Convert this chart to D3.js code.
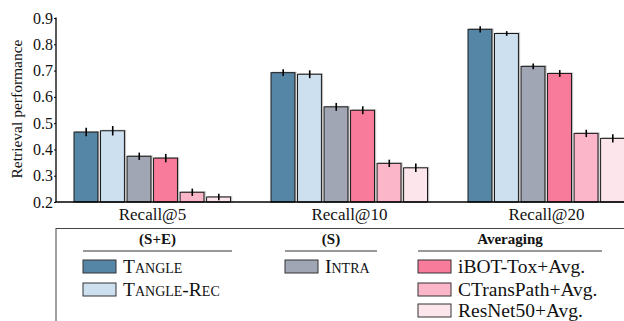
<!DOCTYPE html>
<html>
<head>
<meta charset="utf-8">
<script src="https://cdn.jsdelivr.net/npm/d3@7"></script>
<style>
  html, body { margin: 0; padding: 0; background: #fff; }
  svg { display: block; font-family: "Liberation Serif", "Times New Roman", serif; }
</style>
</head>
<body>
<svg id="chart" width="624" height="321"></svg>
<script>
// Retrieval performance by recall cutoff
const categories = ["Recall@5", "Recall@10", "Recall@20"];
const seriesNames = ["Tangle", "Tangle-Rec", "Intra", "iBOT-Tox+Avg.", "CTransPath+Avg.", "ResNet50+Avg."];
const seriesColors = ["#5686a6", "#cde0f0", "#a0a6b3", "#f97b9c", "#fbb6ca", "#fde5ec"];
const tangleVals    = [0.466, 0.692, 0.857];
const tangleRecVals = [0.471, 0.686, 0.841];
const intraVals     = [0.374, 0.562, 0.716];
const ibotVals      = [0.367, 0.549, 0.689];
const ctransVals    = [0.237, 0.347, 0.461];
const resnetVals    = [0.219, 0.330, 0.442];
const tangleErr    = [0.016, 0.013, 0.012];
const tangleRecErr = [0.018, 0.015, 0.009];
const intraErr     = [0.014, 0.015, 0.011];
const ibotErr      = [0.016, 0.015, 0.013];
const ctransErr    = [0.014, 0.014, 0.014];
const resnetErr    = [0.012, 0.016, 0.016];
const yTicks = [0.2, 0.3, 0.4, 0.5, 0.6, 0.7, 0.8, 0.9];
const legendGroups = [
  { title: "(S+E)", members: [0, 1] },
  { title: "(S)", members: [2] },
  { title: "Averaging", members: [3, 4, 5] }
];

const values = [tangleVals, tangleRecVals, intraVals, ibotVals, ctransVals, resnetVals];
const errors = [tangleErr, tangleRecErr, intraErr, ibotErr, ctransErr, resnetErr];

const svg = d3.select("#chart");

const y = d3.scaleLinear().domain([0.2, 0.9]).range([202, 18]);
const x0 = d3.scaleBand().domain(categories).range([54.3, 644.7])
  .paddingInner(0.203).paddingOuter(0.1);
const x1 = d3.scaleBand().domain(d3.range(seriesNames.length))
  .range([0, x0.bandwidth()]).paddingInner(0.08);

// bars
const groups = svg.append("g").selectAll("g")
  .data(categories).join("g")
  .attr("transform", d => `translate(${x0(d)},0)`);

const cells = groups.selectAll("g.bar")
  .data((c, ci) => seriesNames.map((s, si) => ({ si, v: values[si][ci], e: errors[si][ci] })))
  .join("g").attr("class", "bar");

// soft shadow behind each bar
cells.append("rect")
  .attr("x", d => x1(d.si) + 1.2)
  .attr("y", d => y(d.v) - 1)
  .attr("width", x1.bandwidth())
  .attr("height", d => y(0.2) - y(d.v) + 1)
  .attr("fill", "#9a9a9a").attr("opacity", 0.6);

cells.append("rect")
  .attr("x", d => x1(d.si))
  .attr("y", d => y(d.v))
  .attr("width", x1.bandwidth() - 0.5)
  .attr("height", d => y(0.2) - y(d.v))
  .attr("fill", d => seriesColors[d.si])
  .attr("stroke", "#1a1a1a").attr("stroke-width", 1);

// error bars
cells.append("line")
  .attr("x1", d => x1(d.si) + x1.bandwidth() / 2)
  .attr("x2", d => x1(d.si) + x1.bandwidth() / 2)
  .attr("y1", d => y(d.v - d.e))
  .attr("y2", d => y(d.v + d.e))
  .attr("stroke", "#000").attr("stroke-width", 1.6);

// y axis
const yAxis = svg.append("g").attr("transform", "translate(56,0)")
  .call(d3.axisLeft(y).tickValues(yTicks).tickFormat(d3.format(".1f")).tickSize(2).tickPadding(1));
yAxis.select(".domain").attr("stroke", "#000").attr("stroke-width", 1.3).attr("d", "M0,17.5V202");
yAxis.selectAll(".tick text").attr("font-size", 16).attr("fill", "#111")
  .attr("font-family", "Liberation Serif");
yAxis.selectAll(".tick line").attr("stroke", "#000");

// x baseline
svg.append("line").attr("x1", 55.5).attr("x2", 624).attr("y1", 202).attr("y2", 202)
  .attr("stroke", "#000").attr("stroke-width", 1.5);

// category labels
svg.append("g").selectAll("text").data(categories).join("text")
  .attr("x", d => x0(d) + x0.bandwidth() / 2)
  .attr("y", 220)
  .attr("text-anchor", "middle")
  .attr("font-size", 17).attr("fill", "#111")
  .text(d => d);

// y title
svg.append("text")
  .attr("transform", "translate(22,109) rotate(-90)")
  .attr("text-anchor", "middle")
  .attr("font-size", 15.5).attr("fill", "#111")
  .text("Retrieval performance");

// legend
const legend = svg.append("g");
legend.append("rect")
  .attr("x", 56).attr("y", 228.5).attr("width", 620).attr("height", 120)
  .attr("fill", "none").attr("stroke", "#444").attr("stroke-width", 1);

const colX = [83, 285, 418];
const colW = [149, 92, 184];
const rowY = [260, 283, 304];

legendGroups.forEach((g, gi) => {
  const cx = colX[gi];
  legend.append("text")
    .attr("x", cx + colW[gi] / 2).attr("y", 244)
    .attr("text-anchor", "middle").attr("font-weight", "bold")
    .attr("font-size", 15).attr("fill", "#111")
    .text(g.title);
  legend.append("line")
    .attr("x1", cx).attr("x2", cx + colW[gi]).attr("y1", 251).attr("y2", 251)
    .attr("stroke", "#333").attr("stroke-width", 1);
  g.members.forEach((si, ri) => {
    legend.append("rect")
      .attr("x", cx).attr("y", rowY[ri]).attr("width", 33).attr("height", 13)
      .attr("fill", seriesColors[si]).attr("stroke", "#333").attr("stroke-width", 1);
    const smallCaps = si <= 2;
    legend.append("text")
      .attr("x", cx + 40).attr("y", rowY[ri] + 13)
      .attr("font-size", 19.5).attr("fill", "#111")
      .style("font-variant", smallCaps ? "small-caps" : "normal")
      .text(seriesNames[si]);
  });
});
</script>
</body>
</html>
